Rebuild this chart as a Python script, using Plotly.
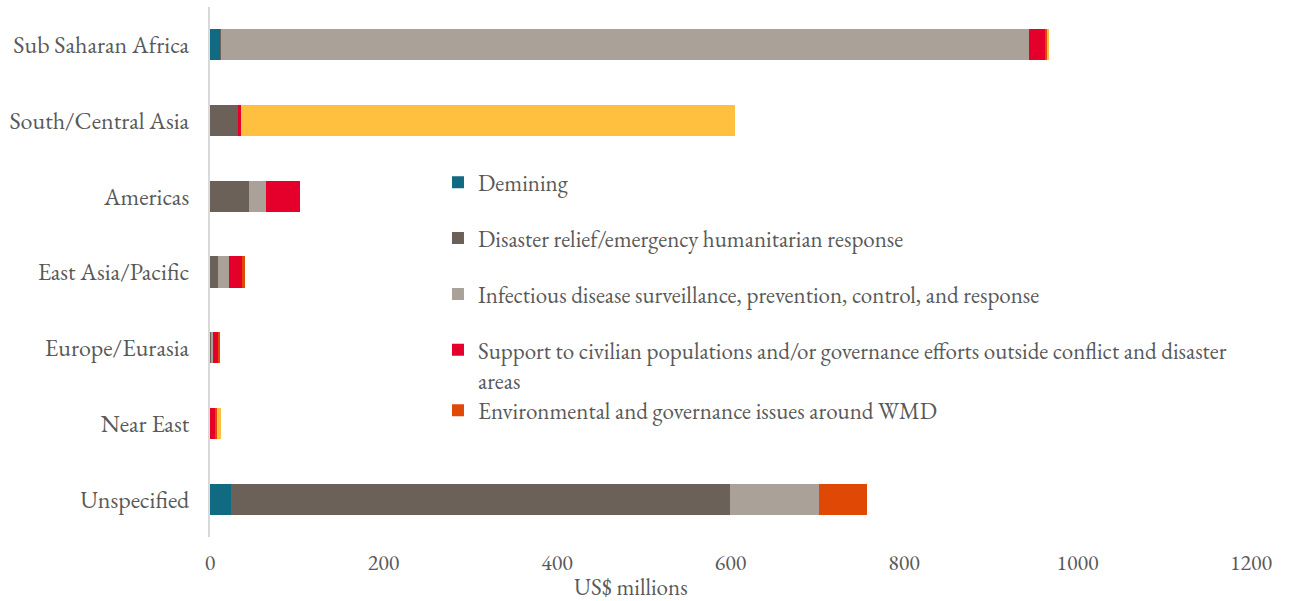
import plotly.graph_objects as go

regions = ["Sub Saharan Africa", "South/Central Asia", "Americas", "East Asia/Pacific",
           "Europe/Eurasia", "Near East", "Unspecified"]

demining = [12, 0, 0, 0, 0, 0, 24]
disaster_relief = [1, 32, 45, 9, 2, 0, 575]
infectious_disease = [931, 0, 20, 13, 1, 0, 103]
civilian_support = [18.5, 4, 39, 15, 7, 6.5, 0]
wmd_environment = [3, 0, 0, 3, 2, 1.5, 55]
other_assistance = [1, 569, 0, 0, 0, 5, 0]

series = [
    ("Demining", demining, "#0f6a82", "legend"),
    ("Disaster relief/emergency humanitarian response", disaster_relief, "#6b6158", "legend"),
    ("Infectious disease surveillance, prevention, control, and response", infectious_disease, "#aaa298", "legend"),
    ("Support to civilian populations and/or governance efforts outside conflict and disaster<br>areas",
     civilian_support, "#e4002b", "legend"),
    ("Environmental and governance issues around WMD", wmd_environment, "#e04806", "legend2"),
    ("Other assistance", other_assistance, "#ffc03f", None),
]

font_family = "'EB Garamond', Garamond, 'Liberation Serif', serif"
text_color = "#595959"
fs = 23

fig = go.Figure()
for i, (name, values, color, legend_id) in enumerate(series):
    fig.add_trace(go.Bar(
        y=regions, x=values, name=name, orientation="h",
        marker=dict(color=color, line=dict(width=0)),
        legendgroup=f"g{i}", showlegend=legend_id is not None,
        legend=legend_id or "legend",
    ))

legend_common = dict(
    xanchor="left", yanchor="top", bgcolor="rgba(0,0,0,0)",
    traceorder="grouped", valign="top", itemwidth=30,
    font=dict(family=font_family, size=fs, color=text_color),
)

fig.update_layout(
    barmode="stack",
    bargap=0.59,
    width=1296, height=601,
    margin=dict(l=210, r=45, t=7, b=64),
    plot_bgcolor="white", paper_bgcolor="white",
    font=dict(family=font_family, size=fs, color=text_color),
    showlegend=True,
    legend=dict(x=0.219, y=0.71, tracegroupgap=23, **legend_common),
    legend2=dict(x=0.219, y=0.71 - 228 / 530, **legend_common),
    xaxis=dict(
        range=[0, 1200], dtick=200, showgrid=False, zeroline=False,
        showline=False, ticks="", ticklabelstandoff=10,
        tickfont=dict(size=fs - 1, color=text_color),
    ),
    yaxis=dict(
        autorange="reversed", showgrid=False, zeroline=False,
        showline=True, linecolor="#d9d9d9", linewidth=2, ticks="",
        ticklabelstandoff=14, tickfont=dict(size=fs + 1, color=text_color),
    ),
    annotations=[dict(
        text="US$ millions", xref="paper", yref="paper",
        x=(631 - 210) / 1041, y=-0.095, xanchor="center", yanchor="middle",
        showarrow=False, font=dict(family=font_family, size=fs, color=text_color),
    )],
)

fig.write_html("out.html")
